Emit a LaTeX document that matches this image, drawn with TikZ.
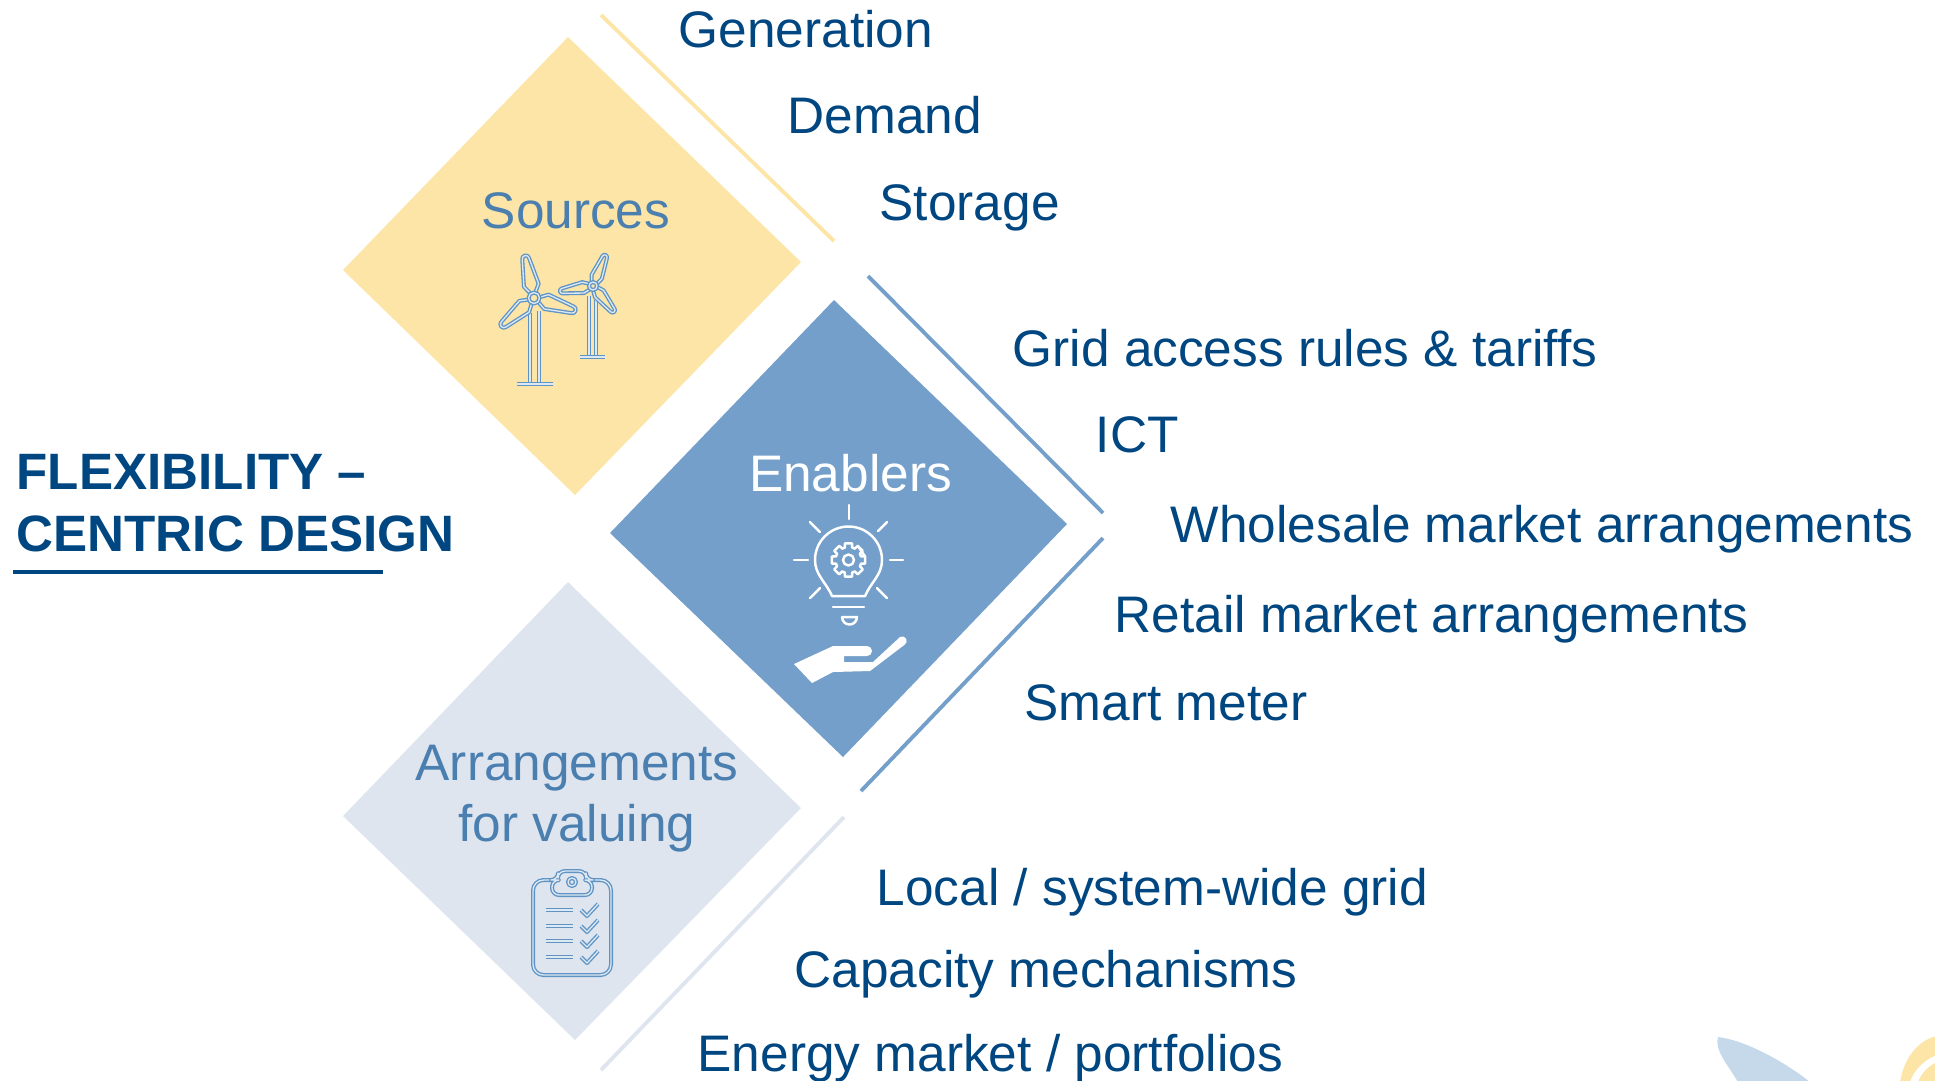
\documentclass[tikz,border=0pt]{standalone}
\usepackage{fontspec}
\setmainfont{Liberation Sans}
\definecolor{titleblue}{HTML}{004680}
\definecolor{headblue}{HTML}{4A7FB0}
\definecolor{srcyellow}{HTML}{FCE5A6}
\definecolor{enblue}{HTML}{749FCA}
\definecolor{arrgrey}{HTML}{DFE5EF}
\definecolor{iconblue}{HTML}{5E93C4}
\definecolor{iconcore}{HTML}{DCE9F3}
\definecolor{leafblue}{HTML}{C5D9EA}
\tikzset{
  itemtext/.style={anchor=base west,inner sep=0pt,text=titleblue,font=\fontsize{14.62}{17}\selectfont},
  headtext/.style={anchor=base,inner sep=0pt,text=headblue,font=\fontsize{14.62}{17}\selectfont},
  titletext/.style={anchor=base west,inner sep=0pt,text=titleblue,font=\fontsize{14.55}{17}\selectfont\bfseries},
  iconline/.style={draw=iconblue,line width=0.38pt,double=iconcore,double distance=0.38pt,line join=round},
  lampline/.style={draw=white,line width=0.7pt,line cap=round,line join=round},
}
\begin{document}
\begin{tikzpicture}[x=0.1mm,y=-0.1mm,line join=round]
    \useasboundingbox (0,0) rectangle (1935,1080);
    \clip (0,0) rectangle (1935,1080);
    % diamonds
    \fill[srcyellow] (568,37)--(801,262)--(575,495)--(343,270)--cycle;
    \fill[enblue] (834,300)--(1067,524)--(843,757)--(610,533)--cycle;
    \fill[arrgrey] (568,582)--(801,808)--(575,1040)--(343,816)--cycle;
    % side lines
    \coordinate (srctop) at (601,15); \coordinate (srcend) at (834,241);
    \coordinate (entop) at (868,276); \coordinate (enmid) at (1103,513);
    \coordinate (enmidb) at (1103,538); \coordinate (enend) at (861,791);
    \coordinate (arrtop) at (844,817); \coordinate (arrend) at (601,1070);
    \draw[srcyellow,line width=1.1pt] (srctop)--(srcend);
    \draw[enblue,line width=1.1pt] (entop)--(enmid);
    \draw[enblue,line width=1.1pt] (enmidb)--(enend);
    \draw[arrgrey,line width=1.1pt] (arrtop)--(arrend);
    % title
    \node[titletext] (title1) at (16,489) {FLEXIBILITY --};
    \node[titletext] (title2) at (16,551) {CENTRIC DESIGN};
    \coordinate (ulstart) at (13,572); \coordinate (ulend) at (383,572);
    \draw[titleblue,line width=1.1pt] (ulstart)--(ulend);
    % heads
    \node[headtext] (sources) at (576,228) {Sources};
    \node[headtext,text=white] (enablers) at (850.5,491) {Enablers};
    \node[headtext] (arrange) at (577,780) {Arrangements};
    \node[headtext] (valuing) at (577,841) {for valuing};
    % items
    \node[itemtext] (generation) at (678,47) {Generation};
    \node[itemtext] (demand) at (787,133) {Demand};
    \node[itemtext] (storage) at (879,220) {Storage};
    \node[itemtext] (grid) at (1012,366) {Grid access rules \& tariffs};
    \node[itemtext] (ict) at (1095,452) {ICT};
    \node[itemtext] (wholesale) at (1170,542) {Wholesale market arrangements};
    \node[itemtext] (retail) at (1114,632) {Retail market arrangements};
    \node[itemtext] (smart) at (1024,720) {Smart meter};
    \node[itemtext] (local) at (876,905) {Local / system-wide grid};
    \node[itemtext] (capacity) at (794,987) {Capacity mechanisms};
    \node[itemtext] (energy) at (697,1071) {Energy market / portfolios};
    % turbines
    \draw[iconline] (530,313)--(530,384);
    \draw[iconline] (539,311)--(539,384);
    \draw[iconline] (517,384)--(553,384);
    \foreach \a in {102,-17,221}
        \draw[iconline,shift={(534,298)},rotate=\a] (6,-3)--(13,-7.5)--(40,-3.5) arc (-90:90:3.5)--(13,7.5)--(6,3);
    \draw[iconline] (534,298) circle (5.5);
    \draw[iconline] (589,296)--(589,356);
    \draw[iconline] (596,300)--(596,356);
    \draw[iconline] (580,357)--(605,357);
    \foreach \a in {68,189,-51}
        \draw[iconline,shift={(593,286)},rotate=\a] (4,-3)--(10,-5.5)--(31,-2.5) arc (-90:90:2.5)--(10,5.5)--(4,3);
    \draw[iconline] (593,286) circle (4);
    % lamp
    \draw[lampline] (832,596) .. controls (826,582) and (815,575) .. (815,560)
        arc (180:360:33.5) .. controls (882,575) and (871,582) .. (865,596) -- cycle;
    \foreach \xa/\ya/\xb/\yb in {849/505/849/519,794/560/808/560,890/560/903/560,810/522/820/532,887/522/878/531,820/588/810/598,877/588/887/598,833/607/864/607}
        \draw[lampline] (\xa,\ya)--(\xb,\yb);
    \draw[lampline] (842,617)--(857,617) arc (0:180:7.5);
    \draw[lampline] (848.5,560) circle (5.5);
    \draw[lampline,shift={(848.5,560)}]
        \foreach \a in {0,45,...,315} {(\a-12:17)--(\a+12:17)--(\a+16:13)--(\a+29:13)--(\a+33:17)} -- cycle;
    \fill[white] (794,664)--(833,646)--(867,646) arc (-90:90:5)--(844,656)--(844,662)--(873,662)--(900,637)
        arc (-120:60:4.5)--(870,671)--(833,672)--(812,683)--cycle;
    % clipboard
    \draw[iconline,rounded corners=3] (552,880)--(533,880)--(533,975)--(611,975)--(611,880)--(592,880);
    \draw[iconline,rounded corners=2] (552,880)--(552,895)--(592,895)--(592,880)--(586,880)--(586,871)--(558,871)--(558,880)--cycle;
    \draw[iconline] (572,882) circle (4);
    \foreach \y in {910,926,941,957} {
        \draw[iconline] (546,\y)--(573,\y);
        \draw[iconline] (581,\y)--(587,\y+6)--(598,\y-6);
    }
    % corner shapes
    \fill[leafblue] (1718,1037) .. controls (1745,1040) and (1785,1062) .. (1810,1082)
        -- (1738,1082) .. controls (1728,1065) and (1714,1050) .. (1718,1037) -- cycle;
    \fill[srcyellow] (1900,1082) .. controls (1904,1058) and (1918,1040) .. (1937,1036) -- (1937,1082) -- cycle;
    \fill[white] (1910,1082) .. controls (1914,1070) and (1924,1060) .. (1937,1055) -- (1937,1082) -- cycle;
    \fill[srcyellow] (1918,1082) .. controls (1921,1074) and (1928,1066) .. (1937,1062) -- (1937,1082) -- cycle;
\end{tikzpicture}
\end{document}
